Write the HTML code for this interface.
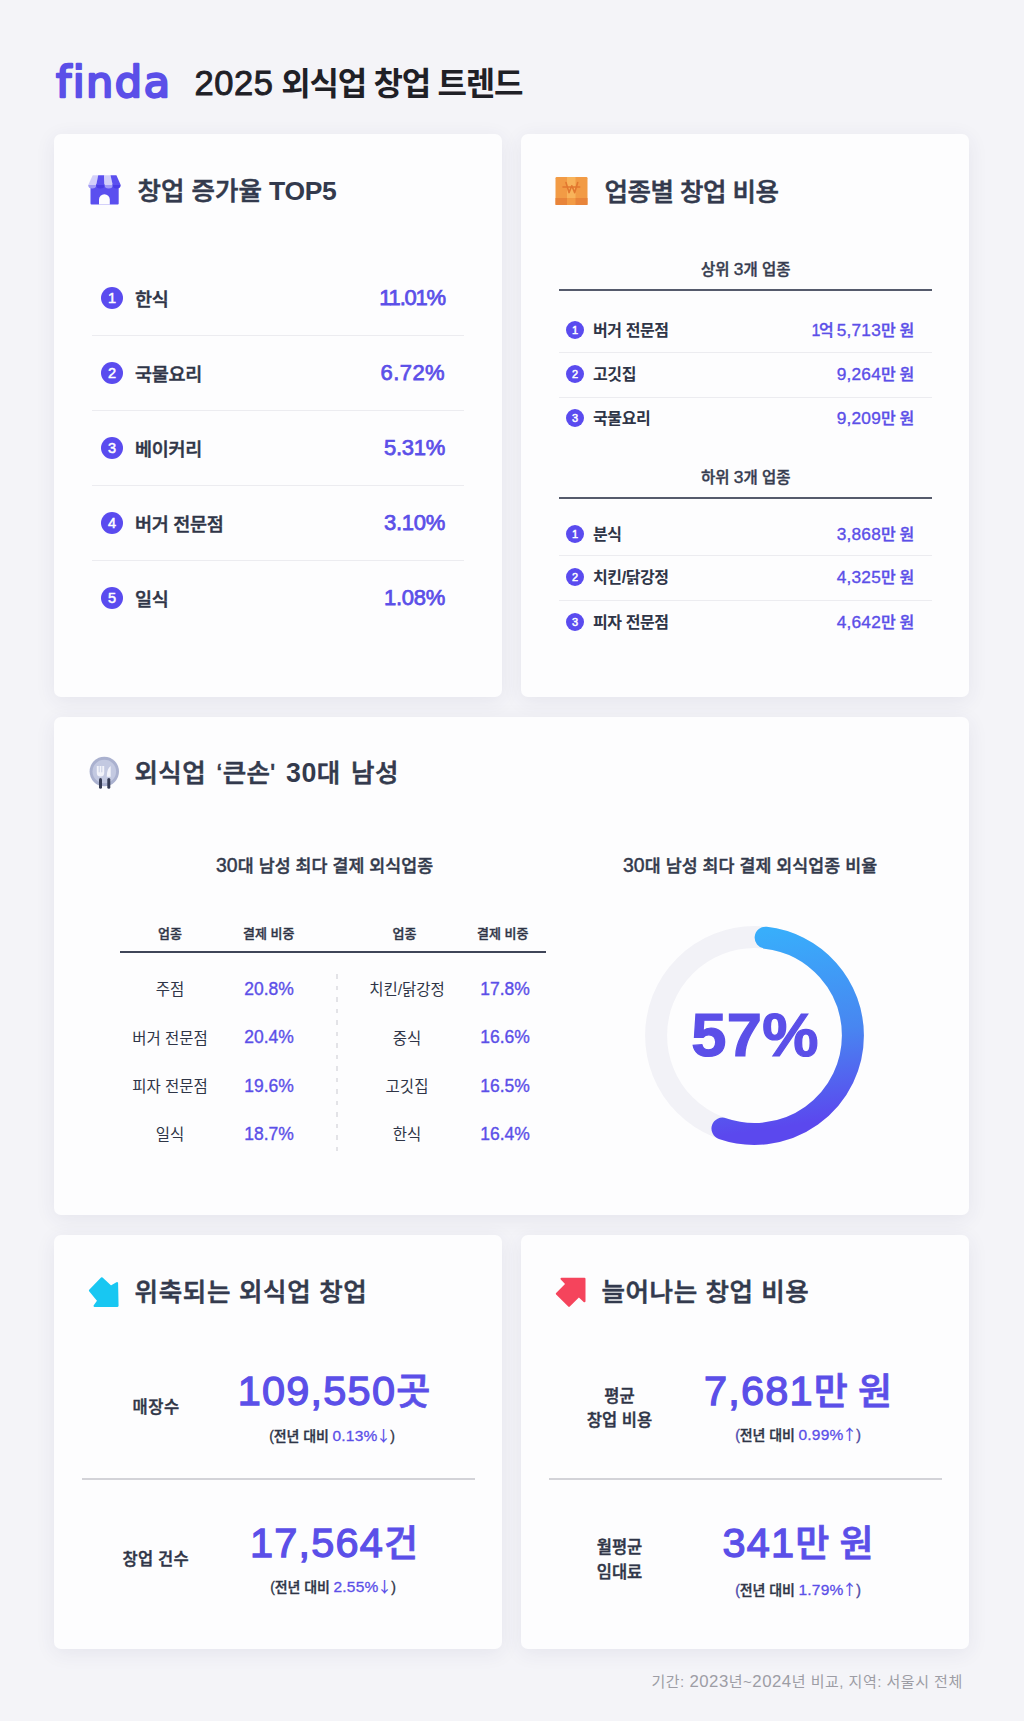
<!DOCTYPE html>
<html lang="ko">
<head>
<meta charset="utf-8">
<title>2025 외식업 창업 트렌드</title>
<style>
*{margin:0;padding:0;box-sizing:border-box}
html,body{width:1024px;height:1721px;overflow:hidden}
body{background:#F4F4F8;font-family:"Liberation Sans","Noto Sans CJK KR",sans-serif;color:#2F3547;position:relative}
.a{position:absolute;white-space:nowrap;line-height:1}
.card{position:absolute;background:#FDFDFE;border-radius:7px;box-shadow:0 4px 20px rgba(50,50,100,0.08)}
.ko{font-family:"Liberation Sans","Noto Sans CJK KR",sans-serif}
.p{color:#5B4FE8}
.hd{font-weight:500;font-size:25.5px;color:#333A4D;-webkit-text-stroke:0.6px #333A4D}
.sep{position:absolute;height:1px;background:#ECECF0}
.L{font-size:1.12em}
.T{font-weight:700;-webkit-text-stroke:0;font-size:26.5px;letter-spacing:-0.3px}
.hd .L{font-weight:700;-webkit-text-stroke:0;font-size:1.05em}
.D{font-size:17.3px;letter-spacing:0.2px}
.th{font-weight:500;font-size:13px;color:#2F3547;-webkit-text-stroke:0.35px #2F3547}
.tc{width:100px;text-align:center;font-weight:400;font-size:15.5px;color:#2F3547}
.tv{width:100px;text-align:center;font-weight:400;font-size:17.5px;color:#5B4FE8;-webkit-text-stroke:0.35px #5B4FE8}
.lb{font-weight:500;font-size:16.5px;color:#2F3547;-webkit-text-stroke:0.45px #2F3547}
.big{text-align:center;font-weight:400;font-size:41.5px;color:#5B4FE8;letter-spacing:1.2px;-webkit-text-stroke:1.3px #5B4FE8}
.K{font-size:37px;font-weight:500;-webkit-text-stroke:0.8px #5B4FE8;letter-spacing:0}
.sm{text-align:center;font-weight:500;font-size:14px;color:#2F3547;letter-spacing:-0.1px;-webkit-text-stroke:0.35px #2F3547}
.sv{font-weight:400;font-size:15.5px;-webkit-text-stroke:0.3px #5B4FE8;letter-spacing:0.2px}
.ar{font-family:"Noto Sans CJK KR",sans-serif;font-weight:500;font-size:15px;-webkit-text-stroke:0;margin-left:-1.5px;margin-right:-1px}
.st{font-weight:500;font-size:17.3px;color:#333A4C;-webkit-text-stroke:0.45px #333A4C;letter-spacing:0.1px}
.num{position:absolute;border-radius:50%;background:#5A4BEF;color:#fff;font-weight:400;text-align:center;-webkit-text-stroke:0.5px #fff}
</style>
</head>
<body>

<!-- header -->
<svg class="a" style="left:40px;top:50px" width="150" height="60"><text x="16" y="46.5" font-family="DejaVu Sans, sans-serif" font-size="43" font-weight="400" fill="#5B4FE8" stroke="#5B4FE8" stroke-width="2.4" stroke-linejoin="round" letter-spacing="1.5" style="font-variant-ligatures:none;font-feature-settings:'liga' 0">finda</text></svg>
<div class="a" style="left:194.5px;top:65.6px;font-weight:700;font-size:32px;color:#1F2026;letter-spacing:-1.25px"><span style="font-size:34.5px;letter-spacing:0.6px;font-weight:400;-webkit-text-stroke:0.9px #1F2026">2025</span> 외식업 창업 트렌드</div>

<!-- card 1 -->
<div class="card" style="left:54px;top:134px;width:448px;height:563px"></div>
<!-- store icon -->
<svg class="a" style="left:86px;top:172px" width="38" height="36" viewBox="0 0 38 36">
  <rect x="4.5" y="12" width="28.2" height="20.5" rx="1" fill="#5B4FEF"/>
  <path d="M13 32.5 V27.6 A5.4 5.4 0 0 1 23.8 27.6 V32.5 Z" fill="#FDFDFE"/>
  <path d="M6.7 3.3 L12.2 3.3 L10.2 13 L2.2 13 Z" fill="#D3D0FA"/>
  <path d="M2.2 13 L10.2 13 A4.00 3.6 0 0 1 2.2 13 Z" fill="#A29CF6"/>
  <path d="M12.2 3.3 L18.2 3.3 L18.6 13 L10.2 13 Z" fill="#5B4FEF"/>
  <path d="M10.2 13 L18.6 13 A4.20 3.6 0 0 1 10.2 13 Z" fill="#4A3CE6"/>
  <path d="M18.2 3.3 L24.5 3.3 L26.7 13 L18.6 13 Z" fill="#D3D0FA"/>
  <path d="M18.6 13 L26.7 13 A4.05 3.6 0 0 1 18.6 13 Z" fill="#A29CF6"/>
  <path d="M24.5 3.3 L30.4 3.3 L34.7 13 L26.7 13 Z" fill="#5B4FEF"/>
  <path d="M26.7 13 L34.7 13 A4.00 3.6 0 0 1 26.7 13 Z" fill="#4A3CE6"/>
</svg>
<div class="a hd" style="left:137.5px;top:178.3px">창업 증가율 <span class="T">TOP5</span></div>

<div class="num" style="left:101px;top:287px;width:22px;height:22px;font-size:14.5px;line-height:22px">1</div>
<div class="a" style="left:135px;top:290.7px;font-weight:500;-webkit-text-stroke:0.5px #2F3547;font-size:18.5px;letter-spacing:-0.3px">한식</div>
<div class="a p" style="left:345px;top:287.4px;font-weight:400;-webkit-text-stroke:0.75px #5B4FE8;font-size:22px;width:100px;text-align:right;letter-spacing:-1.2px">11.01%</div>
<div class="sep" style="left:92px;top:335px;width:372px"></div>

<div class="num" style="left:101px;top:362px;width:22px;height:22px;font-size:14.5px;line-height:22px">2</div>
<div class="a" style="left:135px;top:365.7px;font-weight:500;-webkit-text-stroke:0.5px #2F3547;font-size:18.5px;letter-spacing:-0.3px">국물요리</div>
<div class="a p" style="left:345px;top:362.4px;font-weight:400;-webkit-text-stroke:0.75px #5B4FE8;font-size:22px;width:100px;text-align:right;letter-spacing:0.4px">6.72%</div>
<div class="sep" style="left:92px;top:410px;width:372px"></div>

<div class="num" style="left:101px;top:437px;width:22px;height:22px;font-size:14.5px;line-height:22px">3</div>
<div class="a" style="left:135px;top:440.7px;font-weight:500;-webkit-text-stroke:0.5px #2F3547;font-size:18.5px;letter-spacing:-0.3px">베이커리</div>
<div class="a p" style="left:345px;top:437.4px;font-weight:400;-webkit-text-stroke:0.75px #5B4FE8;font-size:22px;width:100px;text-align:right;letter-spacing:-0.3px">5.31%</div>
<div class="sep" style="left:92px;top:485px;width:372px"></div>

<div class="num" style="left:101px;top:512px;width:22px;height:22px;font-size:14.5px;line-height:22px">4</div>
<div class="a" style="left:135px;top:515.7px;font-weight:500;-webkit-text-stroke:0.5px #2F3547;font-size:18.5px;letter-spacing:-0.3px">버거 전문점</div>
<div class="a p" style="left:345px;top:512.4px;font-weight:400;-webkit-text-stroke:0.75px #5B4FE8;font-size:22px;width:100px;text-align:right;letter-spacing:-0.3px">3.10%</div>
<div class="sep" style="left:92px;top:560px;width:372px"></div>

<div class="num" style="left:101px;top:587px;width:22px;height:22px;font-size:14.5px;line-height:22px">5</div>
<div class="a" style="left:135px;top:590.7px;font-weight:500;-webkit-text-stroke:0.5px #2F3547;font-size:18.5px;letter-spacing:-0.3px">일식</div>
<div class="a p" style="left:345px;top:587.4px;font-weight:400;-webkit-text-stroke:0.75px #5B4FE8;font-size:22px;width:100px;text-align:right;letter-spacing:-0.3px">1.08%</div>

<!-- card 2 -->
<div class="card" style="left:521px;top:134px;width:448px;height:563px"></div>
<!-- box icon -->
<svg class="a" style="left:555px;top:177px" width="33" height="28" viewBox="0 0 33 28">
  <rect x="0.5" y="0" width="32" height="28" rx="1.2" fill="#F29B45"/>
  <rect x="12" y="0" width="8.5" height="28" fill="#F8B35A"/>
  <rect x="0.5" y="21" width="32" height="7" fill="#E8843A"/>
  <rect x="12" y="21" width="8.5" height="7" fill="#F29B45"/>
  <path d="M8 10 H24.7 M11 5.6 L14 15.6 L16.8 8.8 L19.7 15.6 L22.7 5.6" fill="none" stroke="#E2772F" stroke-width="1.6" stroke-linecap="round" stroke-linejoin="round"/>
</svg>
<div class="a hd" style="left:604.5px;top:179.5px;letter-spacing:-0.5px">업종별 창업 비용</div>

<div class="a" style="left:701px;top:261.3px;font-weight:500;font-size:15.5px;color:#363C4F;-webkit-text-stroke:0.4px #363C4F">상위 <span class="L">3</span>개 업종</div>
<div class="a" style="left:559px;top:289px;width:373px;height:2px;background:#555B6C"></div>

<div class="num" style="left:566px;top:321px;width:18px;height:18px;font-size:11px;line-height:18px">1</div>
<div class="a" style="left:593px;top:322.8px;font-weight:700;font-size:16px;letter-spacing:-0.4px">버거 전문점</div>
<div class="a p" style="left:760px;top:321.8px;font-weight:500;font-size:16px;width:154px;text-align:right;letter-spacing:-0.3px;-webkit-text-stroke:0.35px #5B4FE8"><span style="letter-spacing:-1.2px">1억</span> <span class="D">5,713</span>만 원</div>
<div class="sep" style="left:559px;top:352px;width:373px"></div>

<div class="num" style="left:566px;top:365px;width:18px;height:18px;font-size:11px;line-height:18px">2</div>
<div class="a" style="left:593px;top:367px;font-weight:700;font-size:16px;letter-spacing:-0.4px">고깃집</div>
<div class="a p" style="left:760px;top:366px;font-weight:500;font-size:16px;width:154px;text-align:right;letter-spacing:-0.3px;-webkit-text-stroke:0.35px #5B4FE8"><span class="D">9,264</span>만 원</div>
<div class="sep" style="left:559px;top:397px;width:373px"></div>

<div class="num" style="left:566px;top:409px;width:18px;height:18px;font-size:11px;line-height:18px">3</div>
<div class="a" style="left:593px;top:411px;font-weight:700;font-size:16px;letter-spacing:-0.4px">국물요리</div>
<div class="a p" style="left:760px;top:410px;font-weight:500;font-size:16px;width:154px;text-align:right;letter-spacing:-0.3px;-webkit-text-stroke:0.35px #5B4FE8"><span class="D">9,209</span>만 원</div>

<div class="a" style="left:701px;top:469.3px;font-weight:500;font-size:15.5px;color:#363C4F;-webkit-text-stroke:0.4px #363C4F">하위 <span class="L">3</span>개 업종</div>
<div class="a" style="left:559px;top:497px;width:373px;height:2px;background:#555B6C"></div>

<div class="num" style="left:566px;top:525px;width:18px;height:18px;font-size:11px;line-height:18px">1</div>
<div class="a" style="left:593px;top:526.5px;font-weight:700;font-size:16px;letter-spacing:-0.4px">분식</div>
<div class="a p" style="left:760px;top:525.5px;font-weight:500;font-size:16px;width:154px;text-align:right;letter-spacing:-0.3px;-webkit-text-stroke:0.35px #5B4FE8"><span class="D">3,868</span>만 원</div>
<div class="sep" style="left:559px;top:555px;width:373px"></div>

<div class="num" style="left:566px;top:568px;width:18px;height:18px;font-size:11px;line-height:18px">2</div>
<div class="a" style="left:593px;top:569.9px;font-weight:700;font-size:16px;letter-spacing:-0.4px">치킨/닭강정</div>
<div class="a p" style="left:760px;top:568.9px;font-weight:500;font-size:16px;width:154px;text-align:right;letter-spacing:-0.3px;-webkit-text-stroke:0.35px #5B4FE8"><span class="D">4,325</span>만 원</div>
<div class="sep" style="left:559px;top:600px;width:373px"></div>

<div class="num" style="left:566px;top:613px;width:18px;height:18px;font-size:11px;line-height:18px">3</div>
<div class="a" style="left:593px;top:614.5px;font-weight:700;font-size:16px;letter-spacing:-0.4px">피자 전문점</div>
<div class="a p" style="left:760px;top:613.5px;font-weight:500;font-size:16px;width:154px;text-align:right;letter-spacing:-0.3px;-webkit-text-stroke:0.35px #5B4FE8"><span class="D">4,642</span>만 원</div>
<!-- card 3 -->
<div class="card" style="left:54px;top:717px;width:915px;height:498px"></div>
<svg class="a" style="left:86px;top:752px" width="38" height="40" viewBox="0 0 38 40">
  <circle cx="18.3" cy="19.5" r="14.7" fill="#AAB1CF"/>
  <circle cx="18.3" cy="19.5" r="11.8" fill="#C3C9E1"/>
  <path d="M10.8 14.1 H18.2 V21 Q18.2 24.5 14.5 24.5 Q10.8 24.5 10.8 21 Z" fill="#F2F3FA"/>
  <path d="M13.2 14.1 V20.3 M15.8 14.1 V20.3" stroke="#C3C9E1" stroke-width="0.9"/>
  <rect x="13" y="26" width="3" height="10.7" rx="1.5" fill="#363C55"/>
  <path d="M24.7 14.1 V24.7 H20.8 Q20.6 17.2 24.7 14.1 Z" fill="#F2F3FA"/>
  <rect x="21.3" y="26" width="3" height="10.7" rx="1.5" fill="#363C55"/>
</svg>
<div class="a hd" style="left:134.5px;top:759.9px;letter-spacing:0.4px;word-spacing:3px">외식업 ‘큰손' <span class="L">30</span>대 남성</div>

<div class="a st" style="left:216px;top:855.8px"><span class="L">30</span>대 남성 최다 결제 외식업종</div>
<div class="a st" style="left:623px;top:855.8px"><span class="L">30</span>대 남성 최다 결제 외식업종 비율</div>

<div class="a th" style="left:158px;top:926.8px">업종</div>
<div class="a th" style="left:243px;top:926.8px">결제 비중</div>
<div class="a th" style="left:392.5px;top:926.8px">업종</div>
<div class="a th" style="left:477px;top:926.8px">결제 비중</div>
<div class="a" style="left:120px;top:951px;width:426px;height:2px;background:#3F4558"></div>
<div class="a" style="left:336.3px;top:974px;width:1.6px;height:180px;background:repeating-linear-gradient(to bottom,#E3E3E7 0 4.5px,transparent 4.5px 11.5px)"></div>

<div class="a tc" style="left:120px;top:982.4px">주점</div>
<div class="a tv" style="left:219px;top:981px">20.8%</div>
<div class="a tc" style="left:120px;top:1030.7px">버거 전문점</div>
<div class="a tv" style="left:219px;top:1029.3px">20.4%</div>
<div class="a tc" style="left:120px;top:1079px">피자 전문점</div>
<div class="a tv" style="left:219px;top:1077.6px">19.6%</div>
<div class="a tc" style="left:120px;top:1127.3px">일식</div>
<div class="a tv" style="left:219px;top:1125.9px">18.7%</div>

<div class="a tc" style="left:357px;top:982.4px">치킨/닭강정</div>
<div class="a tv" style="left:455px;top:981px">17.8%</div>
<div class="a tc" style="left:357px;top:1030.7px">중식</div>
<div class="a tv" style="left:455px;top:1029.3px">16.6%</div>
<div class="a tc" style="left:357px;top:1079px">고깃집</div>
<div class="a tv" style="left:455px;top:1077.6px">16.5%</div>
<div class="a tc" style="left:357px;top:1127.3px">한식</div>
<div class="a tv" style="left:455px;top:1125.9px">16.4%</div>

<svg class="a" style="left:640px;top:921px" width="230" height="230" viewBox="0 0 230 230">
  <defs>
    <linearGradient id="dg" x1="0" y1="0" x2="0.1" y2="1">
      <stop offset="0" stop-color="#38AEFB"/>
      <stop offset="0.55" stop-color="#4886F1"/>
      <stop offset="1" stop-color="#5B48EE"/>
    </linearGradient>
  </defs>
  <circle cx="114.5" cy="114.5" r="98.4" fill="none" stroke="#F2F2F7" stroke-width="22"/>
  <path d="M125.64 16.73 A98.4 98.4 0 0 1 212.90 114.50 A98.4 98.4 0 0 1 82.46 207.54" fill="none" stroke="url(#dg)" stroke-width="22" stroke-linecap="round"/>
</svg>
<div class="a p" style="left:640px;top:1005px;width:230px;text-align:center;font-weight:700;font-size:60.5px;letter-spacing:0.3px;transform:scaleX(1.045);-webkit-text-stroke:1.2px #5B4FE8">57%</div>

<!-- card 4 -->
<div class="card" style="left:54px;top:1235px;width:448px;height:414px"></div>
<svg class="a" style="left:86px;top:1274px" width="36" height="36" viewBox="86 1274 36 36">
  <polygon points="101.82,1278.39 110.94,1286.79 117.00,1283.07 117.48,1305.89 94.66,1305.89 98.38,1300.74 89.98,1290.52" fill="#18C7F2" stroke="#18C7F2" stroke-width="2.2" stroke-linejoin="round"/>
</svg>
<div class="a hd" style="left:134.5px;top:1279.9px;letter-spacing:0.7px">위축되는 외식업 창업</div>

<div class="a lb" style="left:132.5px;top:1398.7px;letter-spacing:0.6px">매장수</div>
<div class="a big" style="left:180px;top:1370px;width:308px">109,550<span class="K">곳</span></div>
<div class="a sm" style="left:178px;top:1426.8px;width:308px">(전년 대비 <span class="p sv">0.13%<span class="ar">↓</span></span>)</div>
<div class="a" style="left:82px;top:1478px;width:393px;height:1.5px;background:#D3D3D8"></div>
<div class="a lb" style="left:122.5px;top:1551.1px;letter-spacing:0.2px">창업 건수</div>
<div class="a big" style="left:180px;top:1522px;width:308px">17,564<span class="K">건</span></div>
<div class="a sm" style="left:179px;top:1578.4px;width:308px">(전년 대비 <span class="p sv">2.55%<span class="ar">↓</span></span>)</div>

<!-- card 5 -->
<div class="card" style="left:521px;top:1235px;width:448px;height:414px"></div>
<svg class="a" style="left:553px;top:1274px" width="36" height="36" viewBox="553 1274 36 36">
  <polygon points="561.58,1278.78 584.40,1278.78 584.40,1301.13 578.86,1295.97 569.02,1305.81 556.90,1293.68 566.54,1284.04" fill="#F5445C" stroke="#F5445C" stroke-width="2.2" stroke-linejoin="round"/>
</svg>
<div class="a hd" style="left:601.5px;top:1279.9px;letter-spacing:0.6px">늘어나는 창업 비용</div>

<div class="a lb" style="left:560px;top:1383.8px;width:119px;text-align:center;line-height:24.5px">평균<br>창업 비용</div>
<div class="a big" style="left:644px;top:1370px;width:308px">7,681<span class="K">만 원</span></div>
<div class="a sm" style="left:644px;top:1425.5px;width:308px"><span class="p">(</span>전년 대비 <span class="p sv">0.99%<span class="ar">↑</span></span><span class="p">)</span></div>
<div class="a" style="left:549px;top:1478px;width:393px;height:1.5px;background:#D3D3D8"></div>
<div class="a lb" style="left:560px;top:1535px;width:119px;text-align:center;line-height:24.5px">월평균<br>임대료</div>
<div class="a big" style="left:644px;top:1522px;width:308px">341<span class="K">만 원</span></div>
<div class="a sm" style="left:644px;top:1580.5px;width:308px"><span class="p">(</span>전년 대비 <span class="p sv">1.79%<span class="ar">↑</span></span><span class="p">)</span></div>

<div class="a" style="left:651.5px;top:1674px;font-size:15px;color:#9D9DA5;letter-spacing:0.5px">기간: <span class="L">2023</span>년~<span class="L">2024</span>년 비교, 지역: 서울시 전체</div>

</body>
</html>
